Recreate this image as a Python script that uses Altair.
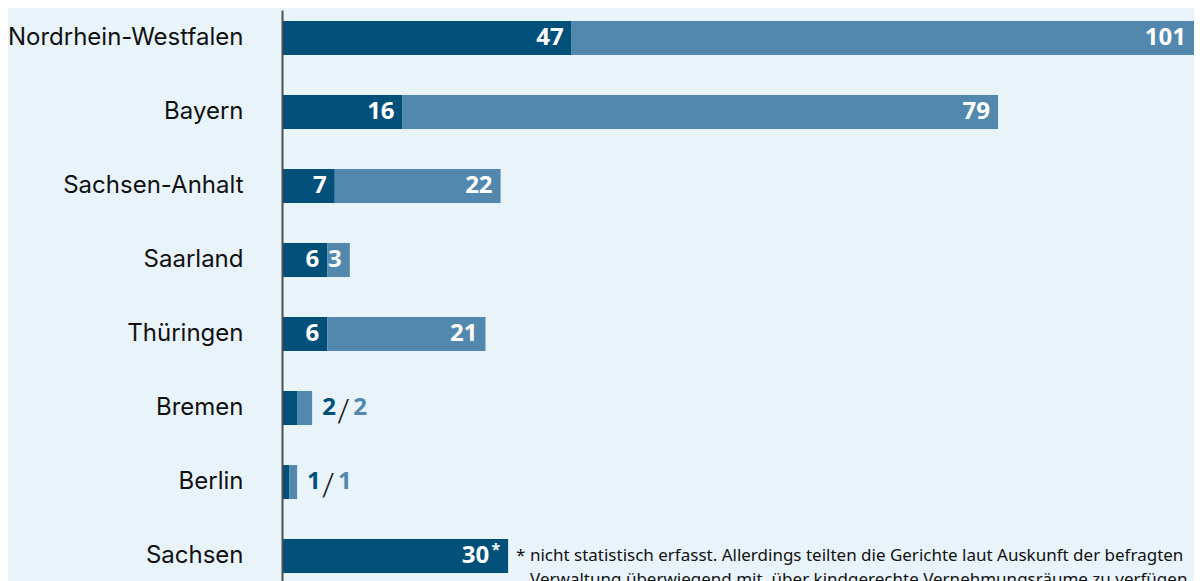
import altair as alt
import pandas as pd

# ---- data ----
states = ["Nordrhein-Westfalen", "Bayern", "Sachsen-Anhalt", "Saarland",
          "Thüringen", "Bremen", "Berlin", "Sachsen"]
dark_values = [47, 16, 7, 6, 6, 2, 1, 30]
light_values = [101, 79, 22, 3, 21, 2, 1, 0]
label_suffix = ["", "", "", "", "", "", "", "*"]
outside_states = ["Bremen", "Berlin"]
broken_states = ["Nordrhein-Westfalen"]          # drawn on its own (compressed) scale
footnote_lines = [
    "* nicht statistisch erfasst. Allerdings teilten die Gerichte laut Auskunft der befragten",
    "Verwaltung überwiegend mit, über kindgerechte Vernehmungsräume zu verfügen.",
]
footnote_state = "Sachsen"

# ---- style ----
BG = "#e8f4fa"
DARK = "#00507a"
LIGHT = "#5288ad"
VALUE_FONT = "Open Sans"
LABEL_FONT = "Inter"
NOTE_FONT = "Noto Sans"

df = pd.DataFrame({"state": states, "dark": dark_values, "light": light_values,
                   "suffix": label_suffix})
df["end"] = df["dark"] + df["light"]
df["dark_label"] = df["dark"].astype(str)
df["light_label"] = df["light"].astype(str)
df["outside"] = df["state"].isin(outside_states)

yscale = alt.Scale(domain=states, paddingInner=0.5405, paddingOuter=0.128, align=0.58)
yaxis = alt.Axis(title=None, labelFont=LABEL_FONT, labelFontSize=24, labelColor="#111111",
                 labelPadding=39, ticks=False, tickSize=0, domainColor="#4d4d4d",
                 domainWidth=2, labelLimit=400, grid=False, zindex=1)
Y = alt.Y("state:N", scale=yscale, axis=yaxis, title=None)


def group(sub, xmax, extra=()):
    xs = alt.Scale(domain=[0, xmax], nice=False, zero=True)
    base = alt.Chart(sub).encode(y=Y)
    dark_bar = base.mark_bar(color=DARK).encode(
        x=alt.X("dark:Q", scale=xs, axis=None))
    light_bar = base.transform_filter("datum.light > 0").mark_bar(color=LIGHT).encode(
        x=alt.X("dark:Q", scale=xs, axis=None), x2="end:Q")
    dark_txt = base.transform_filter("!datum.outside && datum.suffix == ''").mark_text(
        align="right", baseline="middle", dx=-8, font=VALUE_FONT, fontWeight="bold",
        fontSize=24, color="white").encode(
        x=alt.X("dark:Q", scale=xs, axis=None), text="dark_label:N")
    dark_txt_s = base.transform_filter("!datum.outside && datum.suffix != ''").mark_text(
        align="right", baseline="middle", dx=-19, font=VALUE_FONT, fontWeight="bold",
        fontSize=24, color="white").encode(
        x=alt.X("dark:Q", scale=xs, axis=None), text="dark_label:N")
    suffix_txt = base.transform_filter("datum.suffix != ''").mark_text(
        align="right", baseline="middle", dx=-8, dy=-6, font=VALUE_FONT, fontWeight="bold",
        fontSize=16, color="white").encode(
        x=alt.X("dark:Q", scale=xs, axis=None), text="suffix:N")
    light_txt = base.transform_filter("!datum.outside && datum.light > 0").mark_text(
        align="right", baseline="middle", dx=-8, font=VALUE_FONT, fontWeight="bold",
        fontSize=24, color="white").encode(
        x=alt.X("end:Q", scale=xs, axis=None), text="light_label:N")
    layers = [dark_bar, light_bar, dark_txt, dark_txt_s, suffix_txt, light_txt]
    for f in extra:
        layers.append(f(base, xs))
    return alt.layer(*layers)


def out_dark(base, xs):
    return base.transform_filter("datum.outside").mark_text(
        align="left", baseline="middle", dx=10, font=VALUE_FONT, fontWeight="bold",
        fontSize=24, color=DARK).encode(
        x=alt.X("end:Q", scale=xs, axis=None), text="dark:N")


def out_slash(base, xs):
    return base.transform_filter("datum.outside").mark_text(
        align="left", baseline="middle", dx=25, dy=3, font="Roboto", fontWeight=300,
        fontSize=32, color="#1a1a1a").encode(
        x=alt.X("end:Q", scale=xs, axis=None), text=alt.value("/"))


def out_light(base, xs):
    return base.transform_filter("datum.outside").mark_text(
        align="left", baseline="middle", dx=41, font=VALUE_FONT, fontWeight="bold",
        fontSize=24, color=LIGHT).encode(
        x=alt.X("end:Q", scale=xs, axis=None), text="light:N")


def footnote(base, xs):
    note = pd.DataFrame({"state": [footnote_state],
                         "x": [int(df.loc[df.state == footnote_state, "end"].iloc[0])],
                         "l1": [footnote_lines[0]], "l2": [footnote_lines[1]]})
    c = alt.Chart(note).encode(y=Y, x=alt.X("x:Q", scale=xs, axis=None))
    t1 = c.mark_text(align="left", baseline="middle", dx=8, font=NOTE_FONT,
                     fontSize=17, color="#111111").encode(text="l1:N")
    t2 = c.mark_text(align="left", baseline="middle", dx=22, dy=24, font=NOTE_FONT,
                     fontSize=17, color="#111111").encode(text="l2:N")
    return alt.layer(t1, t2)


broken = df[df["state"].isin(broken_states)]
regular = df[~df["state"].isin(broken_states)]

g1 = group(broken, 148)
g2 = group(regular, 121, extra=(out_dark, out_slash, out_light, footnote))

chart = alt.layer(g1, g2).resolve_scale(x="independent").properties(
    width=912, height=571,
    padding={"left": 274, "top": 2, "right": 0, "bottom": 0},
    autosize=alt.AutoSizeParams(type="none"),
).configure(background=BG).configure_view(stroke=None)

chart.save("out.html", embed_options={"renderer": "svg", "actions": False})
